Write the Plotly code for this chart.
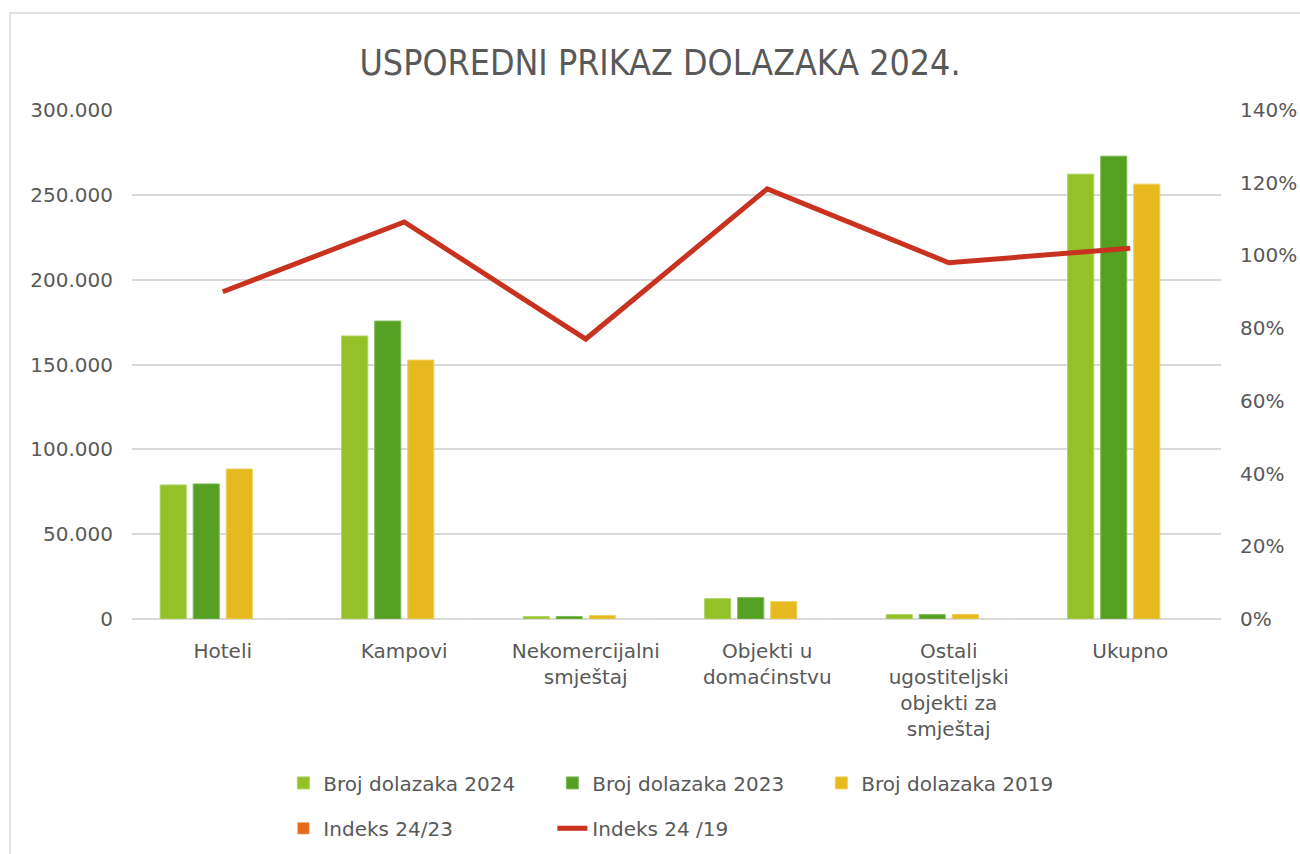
import plotly.graph_objects as go

categories = ["Hoteli", "Kampovi", "Nekomercijalni<br>smještaj", "Objekti u<br>domaćinstvu",
              "Ostali<br>ugostiteljski<br>objekti za<br>smještaj", "Ukupno"]
dolasci_2024 = [79000, 166800, 1400, 12000, 2600, 262200]
dolasci_2023 = [79600, 175600, 1500, 12600, 2600, 272800]
dolasci_2019 = [88400, 152600, 2000, 10200, 2700, 256300]
indeks_24_23 = [0.99, 0.95, 0.93, 0.95, 1.00, 0.96]
indeks_24_19 = [0.90, 1.092, 0.77, 1.183, 0.98, 1.02]

FONT = "DejaVu Sans"
GREY = "#595959"

fig = go.Figure()
fig.add_trace(go.Bar(name="Broj dolazaka 2024", x=categories, y=dolasci_2024,
                     marker=dict(color="#93C127", line=dict(color="#ADD262", width=1)), legend="legend"))
fig.add_trace(go.Bar(name="Broj dolazaka 2023", x=categories, y=dolasci_2023,
                     marker=dict(color="#55A022", line=dict(color="#7DBA55", width=1)), legend="legend"))
fig.add_trace(go.Bar(name="Broj dolazaka 2019", x=categories, y=dolasci_2019,
                     marker=dict(color="#E6B91E", line=dict(color="#F0CF5C", width=1)), legend="legend"))
fig.add_trace(go.Bar(name="Indeks 24/23", x=categories, y=indeks_24_23,
                     marker=dict(color="#E8691A"), legend="legend2"))
fig.add_trace(go.Scatter(name="Indeks 24 /19", x=categories, y=indeks_24_19, yaxis="y2",
                         mode="lines", line=dict(color="#C8321E", width=5), legend="legend2"))

fig.update_layout(
    width=1300, height=854,
    paper_bgcolor="white", plot_bgcolor="white",
    margin=dict(l=132, r=79, t=110, b=235, autoexpand=False),
    separators=",.",
    font=dict(family=FONT, size=20, color=GREY),
    title=dict(text="USPOREDNI PRIKAZ DOLAZAKA 2024.", x=0.5077, xanchor="center",
               y=0.927, yanchor="middle",
               font=dict(family="DejaVu Sans Condensed", size=35.5, color=GREY)),
    barmode="group", bargap=0.272, bargroupgap=0.21,
    xaxis=dict(showgrid=False, showline=False, ticks="", ticklabelstandoff=18,
               tickfont=dict(size=20, color=GREY)),
    yaxis=dict(range=[0, 300000], dtick=50000, tickformat=",.0f", showgrid=True,
               gridcolor="#D9D9D9", gridwidth=1.5, zeroline=True, zerolinecolor="#D9D9D9",
               zerolinewidth=1.5, showline=False, ticks="", ticklabelstandoff=18,
               tickfont=dict(size=20, color=GREY)),
    yaxis2=dict(range=[0, 1.4], dtick=0.2, tickformat=".0%", overlaying="y", side="right",
                showgrid=False, zeroline=False, showline=False, ticks="", ticklabelstandoff=18,
                tickfont=dict(size=20, color=GREY)),
    legend=dict(orientation="h", x=0.139, xanchor="left", y=-0.322, yanchor="middle",
                entrywidth=224, entrywidthmode="pixels", font=dict(size=20, color=GREY),
                bgcolor="rgba(0,0,0,0)", itemclick=False, traceorder="normal"),
    legend2=dict(orientation="h", x=0.139, xanchor="left", y=-0.411, yanchor="middle",
                 entrywidth=224, entrywidthmode="pixels", font=dict(size=20, color=GREY),
                 bgcolor="rgba(0,0,0,0)", itemclick=False, traceorder="normal"),
    shapes=[dict(type="rect", xref="paper", yref="paper",
                 x0=(10 - 132) / 1089, x1=(1320 - 132) / 1089,
                 y0=(619 - 880) / 509, y1=(619 - 13) / 509,
                 line=dict(color="#D9D9D9", width=1.5), fillcolor="rgba(0,0,0,0)", layer="below")],
)

fig.write_html("out.html", config={"displayModeBar": False},
               post_script="document.body.style.margin='0px';")
